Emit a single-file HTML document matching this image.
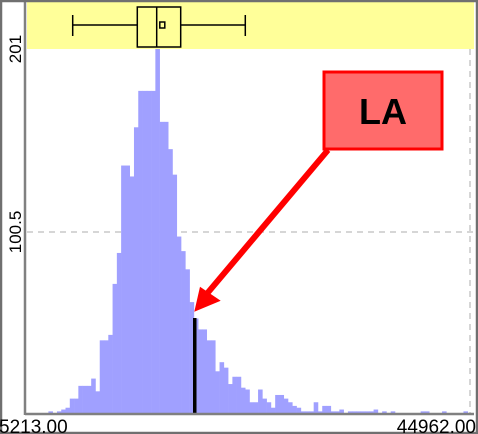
<!DOCTYPE html>
<html><head><meta charset="utf-8"><style>
html,body{margin:0;padding:0;background:#fff;}
svg{display:block;font-family:"Liberation Sans",sans-serif;}
</style></head><body>
<svg width="478" height="434" viewBox="0 0 478 434" id="chart">
<rect x="0" y="0" width="478" height="434" fill="#fff"/>
<rect x="27" y="2" width="447" height="47" fill="#ffff99"/>
<g id="grid"></g>
<g id="bars"></g>
<g id="box"></g>
<line x1="25" y1="2" x2="25" y2="415" stroke="#808080" stroke-width="2.5"/>
<line x1="25" y1="414" x2="474" y2="414" stroke="#808080" stroke-width="2.5"/>
<rect x="1" y="1" width="476" height="432" fill="none" stroke="#707070" stroke-width="2.5"/>
<g id="labels" fill="#000"></g>
<g>
<line x1="328" y1="150" x2="205" y2="296" stroke="#ff0000" stroke-width="6"/>
<polygon points="194.3,311.7 200,286.7 220.7,300.7" fill="#ff0000"/>
<rect x="324" y="72" width="118" height="77" fill="#ff6b6b" stroke="#ff0000" stroke-width="3"/>
<text x="383" y="124" text-anchor="middle" font-size="36" font-weight="bold" fill="#000">LA</text>
</g>
</svg>
<script>
const counts = [1,1,0,1,1,2,1,2,3,4,9,9,16,16,16,20,13,41,41,44,72,89,137,137,131,158,178,178,178,178,201,161,161,146,132,98,90,80,62,53,47,47,41,41,24,29,26,17,21,21,15,14,7,7,14,9,7,4,11,11,9,7,5,4,2,2,2,7,2,5,5,2,2,3,1,2,2,2,2,2,2,3,1,2,1,2,1,1,0,1,0,1,2,2,1,0,1,2,0,0,0,1,2,0];
const xTickLabels = ["5213.00","44962.00"];
const yTickLabels = ["201","100.5"];
const yTickValues = [201,100.5];
const xMin = 5213, xMax = 44962, yMax = 201;
const boxStats = [9295,15065,16798,18941,24712];
const meanValue = [17298];
const laValue = [20175];

const NS="http://www.w3.org/2000/svg";
const px0=27, px1=472, py0=415, py1=49;
function xs(v){return px0+(v-xMin)/(xMax-xMin)*(px1-px0);}
function ys(c){return py0-c/yMax*(py0-py1);}
function mk(tag,attrs,parent){const e=document.createElementNS(NS,tag);for(const k in attrs)e.setAttribute(k,attrs[k]);parent.appendChild(e);return e;}

const grid=document.getElementById('grid');
const g1=mk('line',{x1:px0,x2:474,y1:ys(100.5),y2:ys(100.5),stroke:'#c8c8c8','stroke-width':1.5,'stroke-dasharray':'6,5'},grid);


const g2=mk('line',{x1:470,x2:470,y1:py1,y2:py0,stroke:'#c8c8c8','stroke-width':1.5,'stroke-dasharray':'6,5'},grid);



const bars=document.getElementById('bars');
const bw=(xMax-xMin)/counts.length;
counts.forEach((c,i)=>{
  if(c<=0)return;
  const x=xs(xMin+i*bw), x2=xs(xMin+(i+1)*bw);
  const r=mk('rect',{x:x,y:ys(c),width:x2-x+0.3,height:py0-ys(c),fill:'#a0a0ff'},bars);
  
  
});
const la=mk('rect',{x:xs(laValue[0])-1.5,y:318,width:3.5,height:py0-318,fill:'#000'},bars);



const box=document.getElementById('box');
const cy=25;
const st={stroke:'#000','stroke-width':1.5,fill:'none'};
const wl=mk('line',Object.assign({x1:xs(boxStats[0]),x2:xs(boxStats[1]),y1:cy,y2:cy},st),box);


const wh=mk('line',Object.assign({x1:xs(boxStats[3]),x2:xs(boxStats[4]),y1:cy,y2:cy},st),box);


const c1=mk('line',Object.assign({x1:xs(boxStats[0]),x2:xs(boxStats[0]),y1:15,y2:36},st),box);


const c2=mk('line',Object.assign({x1:xs(boxStats[4]),x2:xs(boxStats[4]),y1:15,y2:36},st),box);


const bx=mk('rect',Object.assign({x:xs(boxStats[1]),y:7,width:xs(boxStats[3])-xs(boxStats[1]),height:40},st),box);


const md=mk('line',Object.assign({x1:xs(boxStats[2]),x2:xs(boxStats[2]),y1:7,y2:47},st),box);


const mn=mk('rect',Object.assign({x:xs(meanValue[0])-2.5,y:cy-3,width:5,height:6},st),box);



const lab=document.getElementById('labels');
const t0=mk('text',{x:-1,y:433,'font-size':19},lab); t0.textContent=xTickLabels[0];


const t1=mk('text',{x:476,y:433,'text-anchor':'end','font-size':19},lab); t1.textContent=xTickLabels[1];


yTickLabels.forEach((s,i)=>{
  const y=ys(yTickValues[i]);
  const t=mk('text',{x:0,y:0,'text-anchor':'middle','font-size':17,transform:'translate(21,'+y+') rotate(-90)'},lab);
  t.textContent=s;
  
  
});
</script>
</body></html>
